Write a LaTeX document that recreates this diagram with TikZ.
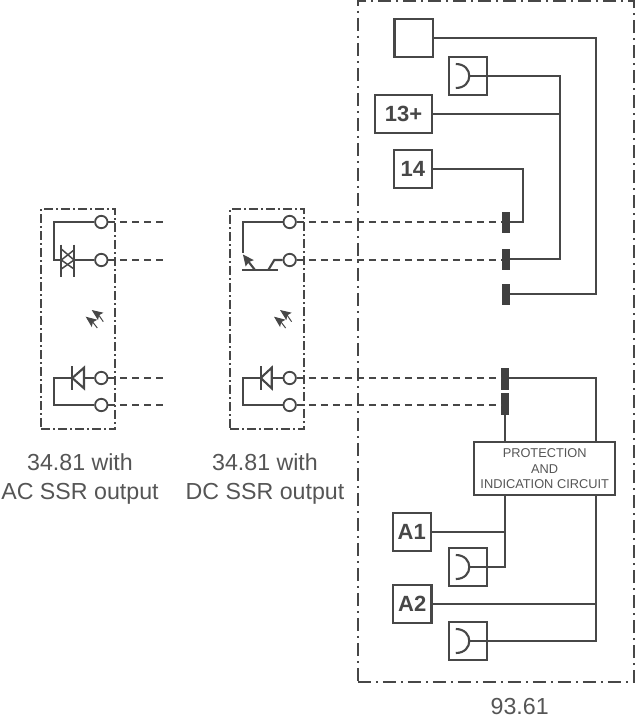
\documentclass[tikz,border=0pt]{standalone}
\usepackage{fontspec}
\setmainfont{Liberation Sans}
\usetikzlibrary{arrows.meta}
\definecolor{ink}{HTML}{474747}
\definecolor{capt}{HTML}{555555}
\tikzset{
	wire/.style={draw=ink, line width=2.1pt},
	link/.style={draw=ink, line width=2pt, dash pattern=on 7pt off 5pt},
	frame/.style={draw=ink, line width=1.8pt, inner sep=0pt, outer sep=0pt},
	ssrframe/.style={frame, dash pattern=on 9pt off 3pt on 2pt off 3pt},
	boardframe/.style={frame, dash pattern=on 13pt off 5pt on 2pt off 5pt},
	port/.style={circle, draw=ink, line width=1.8pt, fill=white, inner sep=0pt, minimum size=12.4pt},
	term/.style={fill=ink!90!black, inner sep=0pt, outer sep=0pt, minimum width=8pt, minimum height=21pt},
	pin/.style={draw=ink, line width=2.2pt, inner sep=0pt, outer sep=0pt, minimum height=37.6pt, text=ink, font=\fontsize{22}{22}\selectfont\bfseries},
	caption/.style={align=center, text=capt, font=\fontsize{23.2}{28.3}\selectfont},
	lamp/.style={ink, line width=1pt, -{Stealth[length=11pt,width=9pt,inset=2pt]}}
}
\newcommand{\contactarc}[1]{\draw[wire] ([shift={(-12,-12)}]#1.center) .. controls ([shift={(-3,-12)}]#1.center) and ([shift={(1.5,-6)}]#1.center) .. ([shift={(1.5,0)}]#1.center) .. controls ([shift={(1.5,6)}]#1.center) and ([shift={(-3,12)}]#1.center) .. ([shift={(-12,12)}]#1.center);}
\newcommand{\lightpair}[2]{
	\draw[lamp] (#1+11.6,#2+11.7) -- (#1+7,#2+5) -- (#1,#2);
	\draw[lamp] (#1+5.6,#2+18) -- (#1+1,#2+12) -- (#1-6,#2+6.7);
}
\begin{document}
\begin{tikzpicture}[x=1pt, y=-1pt]
	\useasboundingbox (0,0) rectangle (638,720);
	\node[ssrframe, minimum width=74.3pt, minimum height=220.3pt] (ac) at (78.2,319.2) {};
	\node[ssrframe, minimum width=73.7pt, minimum height=220.3pt] (dc) at (266.9,319.2) {};
	\node[boardframe, minimum width=276.3pt, minimum height=680.7pt] (board) at (495.9,341.4) {};

	\node[port] (a-1) at (101.3,222) {};
	\node[port] (a-2) at (101.3,260) {};
	\node[port] (a-3) at (101.3,378) {};
	\node[port] (a-4) at (101.3,405) {};
	\coordinate (a-1-end) at (163,222);
	\coordinate (a-2-end) at (163,260);
	\coordinate (a-3-end) at (163,378);
	\coordinate (a-4-end) at (163,405);
	\node[port] (d-1) at (289.7,222) {};
	\node[port] (d-2) at (289.7,260) {};
	\node[port] (d-3) at (289.7,378) {};
	\node[port] (d-4) at (289.7,405) {};

	\node[term] (t-1) at (505.5,222.5) {};
	\node[term] (t-2) at (505.5,259) {};
	\node[term] (t-3) at (505.5,294) {};
	\node[term, minimum height=22pt] (t-4) at (505.3,379) {};
	\node[term, minimum height=22pt] (t-5) at (505.3,404) {};

	\node[pin, minimum width=38.2pt] (blank) at (413.6,38) {};
	\node[pin, minimum width=38.2pt] (k-1) at (467.8,76) {};
	\node[pin, minimum width=56.4pt] (n13) at (403.5,114) {13+};
	\node[pin, minimum width=38.2pt] (n14) at (412.8,169) {14};
	\node[pin, minimum width=38.2pt] (a1) at (411.7,532) {A1};
	\node[pin, minimum width=38.2pt] (k-2) at (467.8,567) {};
	\node[pin, minimum width=38.2pt] (a2) at (412.3,604) {A2};
	\node[pin, minimum width=38.2pt] (k-3) at (467.8,641) {};
	\node[pin, minimum width=140.7pt, minimum height=52.7pt, align=center, font=\fontsize{12.8}{15.6}\selectfont, text=capt] (prot) at (544.7,468.7) {PROTECTION\\AND\\INDICATION CIRCUIT};

	\coordinate (k-1-arc) at ([xshift=1.5pt]k-1.center);
	\coordinate (k-2-arc) at ([xshift=1.5pt]k-2.center);
	\coordinate (k-3-arc) at ([xshift=1.5pt]k-3.center);
	\coordinate (j13) at (560.3,114);
	\coordinate (b14) at (522.7,200);
	\coordinate (rail) at (596,294);
	\coordinate (a-wire) at (54.3,260);
	\coordinate (d-wire) at (242.7,240);

	\path[link]
	(a-1) edge (a-1-end)
	(a-2) edge (a-2-end)
	(a-3) edge (a-3-end)
	(a-4) edge (a-4-end)
	(d-1) edge (t-1.west |- d-1)
	(d-2) edge (t-2.west |- d-2)
	(d-3) edge (t-4.west |- d-3)
	(d-4) edge (t-5.west |- d-4);

	\draw[wire] (blank.east) -| (rail) -- (t-3.east);
	\draw[wire] (k-1-arc) -| (j13) |- (t-2.east);
	\draw[wire] (n13.east) -- (j13);
	\draw[wire] (n14.east) -| (b14) |- (t-1.east |- d-1);
	\draw[wire] (t-4.east |- d-3) -| (rail |- prot.north);
	\draw[wire] (t-5.south) -- (t-5.south |- prot.north);
	\draw[wire] (t-5.south |- prot.south) |- (k-2-arc);
	\draw[wire] (a1.east) -- (a1.east -| t-5.south);
	\draw[wire] (rail |- prot.south) |- (k-3-arc);
	\draw[wire] (a2.east) -- (a2.east -| rail);
	\contactarc{k-1}
	\contactarc{k-2}
	\contactarc{k-3}

	\draw[wire] (a-1) -| (a-wire) -- (61.3,260);
	\draw[wire] (74,260) -- (a-2);
	\draw[wire] (61.3,244.5) -- (61.3,277);
	\draw[wire] (74,244.5) -- (74,277);
	\draw[wire, line width=1.5pt] (61.3,249) -- (74,260) -- (61.3,269);
	\draw[wire, line width=1.5pt] (74,250) -- (61.3,260) -- (74,269);

	\draw[wire] (a-3) -| (a-wire |- a-4) -- (a-4);
	\draw[wire, fill=white] (72.3,378) -- (84,367.7) -- (84,388.3) -- cycle;
	\draw[wire] (72.3,366) -- (72.3,390);
	\draw[wire] (84,378) -- (a-3);

	\draw[wire] (d-3) -| (d-wire |- d-4) -- (d-4);
	\draw[wire, fill=white] (260.7,378) -- (271.7,367.7) -- (271.7,388.3) -- cycle;
	\draw[wire] (260.7,366) -- (260.7,390);
	\draw[wire] (271.7,378) -- (d-3);

	\draw[wire] (d-1) -| (d-wire) -- (242.7,253);
	\draw[wire] (242.3,270) -- (278.3,270);
	\draw[wire, -{Stealth[length=11pt,width=10pt,inset=1.5pt]}] (255,270) -- (242.9,254.5);
	\draw[wire] (268.3,270) -- (274.3,260) -- (d-2);

	\lightpair{91.7}{310}
	\lightpair{280}{310}

	\node[caption] (ac-text) at (80,479) {34.81 with\\AC SSR output};
	\node[caption] (dc-text) at (265,479) {34.81 with\\DC SSR output};
	\node[caption, anchor=base, inner sep=0pt] (board-text) at (519.7,714.5) {93.61};
\end{tikzpicture}
\end{document}
